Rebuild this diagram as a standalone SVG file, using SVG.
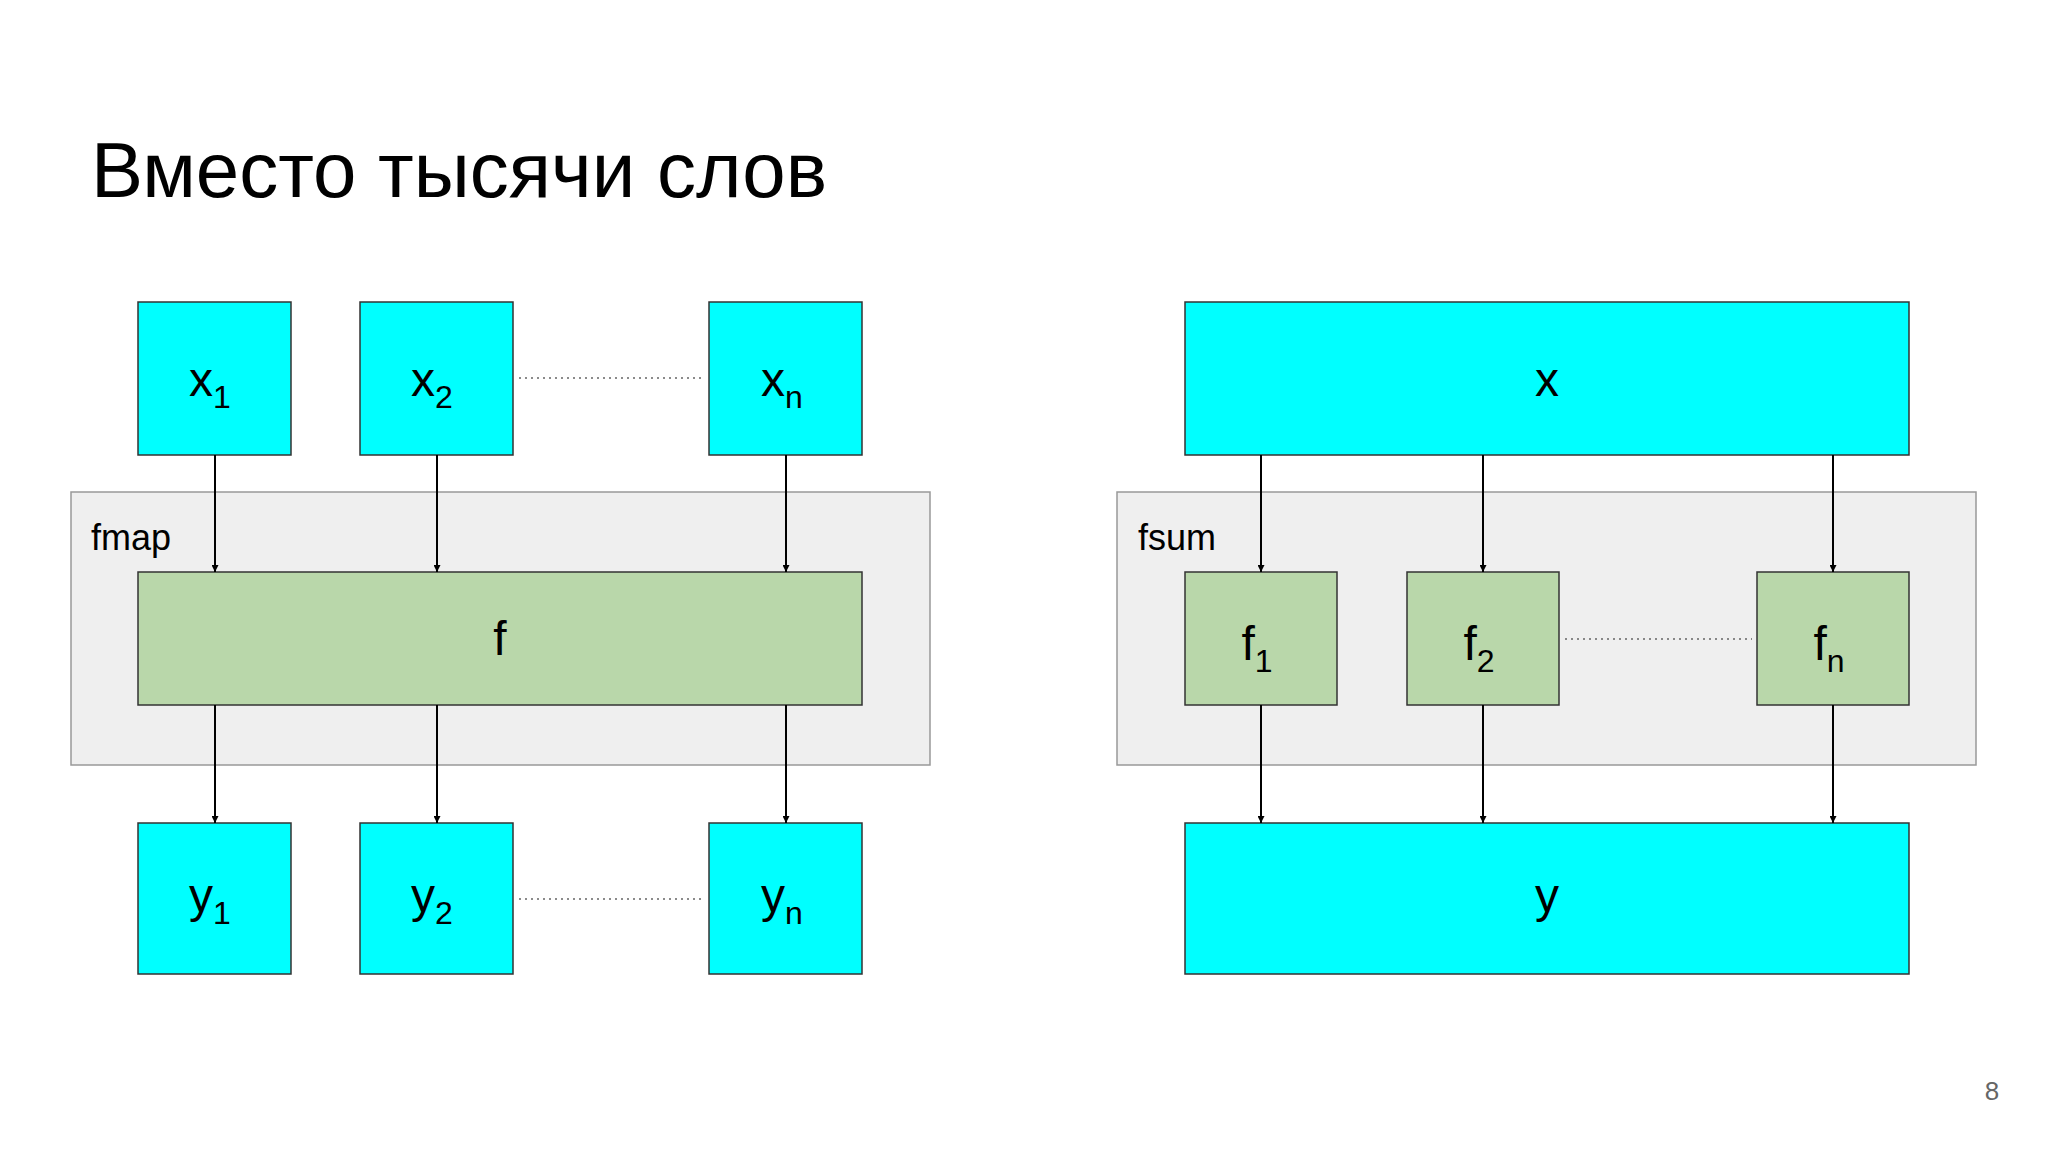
<svg xmlns="http://www.w3.org/2000/svg" width="2048" height="1152" viewBox="0 0 2048 1152">
<style>
text{font-family:"Liberation Sans",Arial,sans-serif;fill:#000}
.c{fill:#00ffff;stroke:#333;stroke-width:1.5}
.g{fill:#b9d7aa;stroke:#333;stroke-width:1.5}
.k{fill:#efefef;stroke:#999;stroke-width:1.5}
.t{font-size:48px;text-anchor:middle}
.s{font-size:32px}
.e{stroke:#000;stroke-width:2;fill:none;marker-end:url(#a)}
.d{stroke:#666;stroke-width:1.5;stroke-dasharray:2 4}
</style>
<defs><marker id="a" viewBox="0 0 10 10" refX="10" refY="5" markerWidth="7" markerHeight="7" orient="auto" markerUnits="userSpaceOnUse"><path d="M0,0L10,5L0,10z" fill="#000" transform="scale(1)"/></marker></defs>
<rect width="2048" height="1152" fill="#fff"/>
<text x="91" y="197" font-size="78">Вместо тысячи слов</text>
<g id="fmap"><rect class="k" x="71" y="492" width="859" height="273"/><text x="91" y="550" font-size="36">fmap</text></g>
<g id="fsum"><rect class="k" x="1117" y="492" width="859" height="273"/><text x="1138" y="550" font-size="36">fsum</text></g>
<g id="x1"><rect class="c" x="138" y="302" width="153" height="153"/><text class="t" x="210" y="396">x<tspan class="s" dy="12">1</tspan></text></g>
<g id="x2"><rect class="c" x="360" y="302" width="153" height="153"/><text class="t" x="432" y="396">x<tspan class="s" dy="12">2</tspan></text></g>
<g id="xn"><rect class="c" x="709" y="302" width="153" height="153"/><text class="t" x="782" y="396">x<tspan class="s" dy="12">n</tspan></text></g>
<g id="f"><rect class="g" x="138" y="572" width="724" height="133"/><text class="t" x="500" y="655">f</text></g>
<g id="y1"><rect class="c" x="138" y="823" width="153" height="151"/><text class="t" x="210" y="912">y<tspan class="s" dy="12">1</tspan></text></g>
<g id="y2"><rect class="c" x="360" y="823" width="153" height="151"/><text class="t" x="432" y="912">y<tspan class="s" dy="12">2</tspan></text></g>
<g id="yn"><rect class="c" x="709" y="823" width="153" height="151"/><text class="t" x="782" y="912">y<tspan class="s" dy="12">n</tspan></text></g>
<g id="x"><rect class="c" x="1185" y="302" width="724" height="153"/><text class="t" x="1547" y="396">x</text></g>
<g id="f1"><rect class="g" x="1185" y="572" width="152" height="133"/><text class="t" x="1257" y="660">f<tspan class="s" dy="12">1</tspan></text></g>
<g id="f2"><rect class="g" x="1407" y="572" width="152" height="133"/><text class="t" x="1479" y="660">f<tspan class="s" dy="12">2</tspan></text></g>
<g id="fn"><rect class="g" x="1757" y="572" width="152" height="133"/><text class="t" x="1829" y="660">f<tspan class="s" dy="12">n</tspan></text></g>
<g id="y"><rect class="c" x="1185" y="823" width="724" height="151"/><text class="t" x="1547" y="912">y</text></g>
<g id="connectors">
<line class="e" x1="215" y1="455" x2="215" y2="572"/>
<line class="e" x1="437" y1="455" x2="437" y2="572"/>
<line class="e" x1="786" y1="455" x2="786" y2="572"/>
<line class="e" x1="215" y1="705" x2="215" y2="823"/>
<line class="e" x1="437" y1="705" x2="437" y2="823"/>
<line class="e" x1="786" y1="705" x2="786" y2="823"/>
<line class="e" x1="1261" y1="455" x2="1261" y2="572"/>
<line class="e" x1="1483" y1="455" x2="1483" y2="572"/>
<line class="e" x1="1833" y1="455" x2="1833" y2="572"/>
<line class="e" x1="1261" y1="705" x2="1261" y2="823"/>
<line class="e" x1="1483" y1="705" x2="1483" y2="823"/>
<line class="e" x1="1833" y1="705" x2="1833" y2="823"/>
<line class="d" x1="519" y1="378" x2="705" y2="378"/>
<line class="d" x1="519" y1="899" x2="705" y2="899"/>
<line class="d" x1="1565" y1="639" x2="1752" y2="639"/>
</g>
<text x="1992" y="1100" font-size="26" fill="#666" style="fill:#666" text-anchor="middle">8</text>
</svg>
